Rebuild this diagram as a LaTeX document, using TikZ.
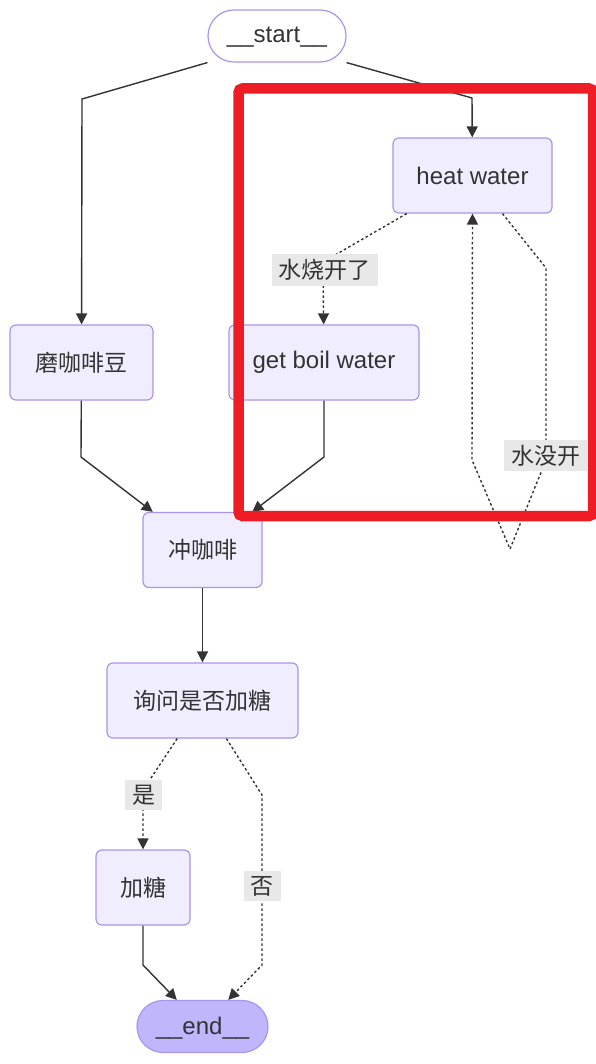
\documentclass[tikz,border=0pt]{standalone}
\usepackage{fontspec}
\setmainfont{Liberation Sans}
\newfontfamily\cjk{Noto Sans CJK SC}
\usetikzlibrary{arrows.meta}
\definecolor{nodefill}{HTML}{F0EEFE}
\definecolor{nodeline}{HTML}{AB94EE}
\definecolor{endfill}{HTML}{BFB6FC}
\definecolor{textc}{HTML}{333333}
\definecolor{lblbg}{HTML}{E8E8E8}
\definecolor{hilite}{HTML}{EE1C25}
\tikzset{
  box/.style={draw=nodeline, fill=nodefill, rounded corners=6pt, line width=1.2pt,
    minimum height=75pt, text=textc, font=\fontsize{24}{28}\selectfont, inner sep=0pt},
  cbox/.style={box, font=\cjk\fontsize{23}{28}\selectfont},
  term/.style={draw=nodeline, line width=1.2pt, rounded corners=26pt, minimum height=52pt,
    text=textc, font=\fontsize{24}{28}\selectfont, inner sep=0pt, text depth=2pt},
  edge/.style={draw=textc, line width=1.4pt, -{Triangle[length=11pt,width=11pt]}},
  dedge/.style={edge, dash pattern=on 2.5pt off 2.5pt},
  lbl/.style={fill=lblbg, text=textc, font=\cjk\fontsize{23}{28}\selectfont, inner xsep=7pt, inner ysep=5pt}
}
\begin{document}
\begin{tikzpicture}[x=1pt,y=-1pt]
\useasboundingbox (0,0) rectangle (596,1064);
\fill[white] (0,0) rectangle (596,1064);

\node[term, minimum width=138pt, fill=white] (start) at (277,36) {\_\_start\_\_};
\node[box, minimum width=159pt] (heat) at (472.5,175.5) {heat water};
\node[cbox, minimum width=143pt] (grind) at (81.5,362.5) {磨咖啡豆};
\node[box, minimum width=190pt] (getboil) at (324,362.5) {get boil water};
\node[cbox, minimum width=119pt] (brew) at (202.5,550) {冲咖啡};
\node[cbox, minimum width=191pt] (ask) at (202.5,700.5) {询问是否加糖};
\node[cbox, minimum width=94pt] (sugar) at (143,887.5) {加糖};
\node[term, minimum width=131pt, fill=endfill] (end) at (202.5,1026.5) {\_\_end\_\_};

\coordinate (b1) at (82,99);
\coordinate (b2) at (472,98);
\coordinate (b3) at (323,262);
\coordinate (b4) at (546,268);
\coordinate (b5) at (546,460);
\coordinate (b6) at (510,549);
\coordinate (b7) at (472,460);
\coordinate (b8) at (81,457);
\coordinate (b9) at (324,457);
\coordinate (b10) at (143,790);
\coordinate (b11) at (262,795);
\coordinate (b12) at (262,965);
\coordinate (b13) at (143,965);

\draw[edge] (start.south west) -- (b1) -- (grind);
\draw[edge] (start.south east) -- (b2) -- (heat);
\draw[dedge] (heat) -- (b3) -- (getboil);
\draw[dedge] ([xshift=30pt]heat.south) -- (b4) -- (b5) -- (b6) -- (b7) -- (heat.south);
\draw[edge] (grind) -- (b8) -- (brew);
\draw[edge] (getboil) -- (b9) -- (brew);
\draw[edge] (brew) -- (ask);
\draw[dedge] (ask) -- (b10) -- (sugar);
\draw[dedge] (ask) -- (b11) -- (b12) -- (end);
\draw[edge] (sugar) -- (b13) -- (end);

\node[lbl] (l1) at (324.5,270) {水烧开了};
\node[lbl] (l2) at (545.5,455.5) {水没开};
\node[lbl] (l3) at (143.5,795) {是};
\node[lbl] (l4) at (262,886) {否};

\draw[hilite, line width=10.5pt, rounded corners=4pt] (238.5,88.5) rectangle (593,516);
\end{tikzpicture}
\end{document}
